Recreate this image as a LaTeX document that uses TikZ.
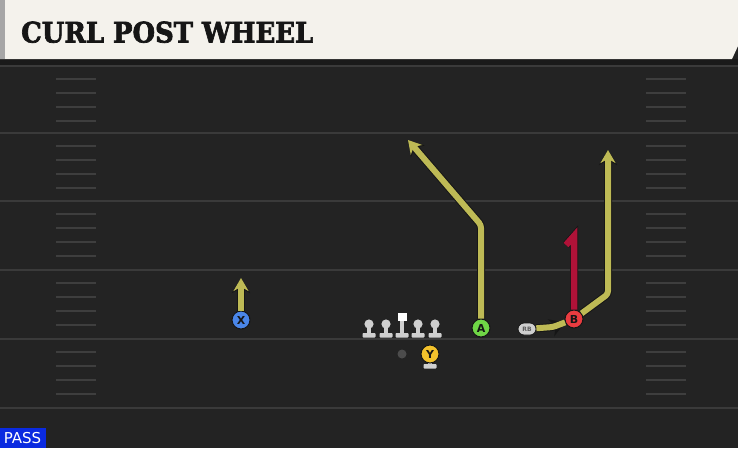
\documentclass[tikz,border=0pt]{standalone}
\usepackage{fontspec}
\usepackage{tikz}
\usetikzlibrary{arrows.meta,shapes.misc}
\newfontfamily\titlefont[FakeBold=2.5]{DejaVu Serif}
\setsansfont{DejaVu Sans}

\definecolor{field}{HTML}{232323}
\definecolor{band}{HTML}{1A1A1A}
\definecolor{yardline}{HTML}{3A3A3A}
\definecolor{hashmark}{HTML}{3E3E3E}
\definecolor{header}{HTML}{F4F2EC}
\definecolor{outline}{HTML}{161616}
\definecolor{routeyellow}{HTML}{BEBA55}
\definecolor{routered}{HTML}{B01238}
\definecolor{xblue}{HTML}{4A86E8}
\definecolor{agreen}{HTML}{6FD646}
\definecolor{bred}{HTML}{EA3C40}
\definecolor{yyellow}{HTML}{F3C22C}
\definecolor{linegray}{HTML}{CFCFCF}
\definecolor{passblue}{HTML}{0A2AE0}

\tikzset{
	player/.style={circle, draw=outline, line width=1pt, minimum size=18pt, inner sep=0pt,
		font=\sffamily\bfseries\fontsize{11}{11}\selectfont, text=outline},
	route/.style={draw=routeyellow, line width=6pt, rounded corners=3pt,
		preaction={draw=outline, line width=8pt, -{Stealth[length=15pt,width=18pt]}},
		-{Stealth[length=13pt,width=15pt]}},
	curl/.style={draw=routered, line width=6.5pt, line join=miter,
		preaction={draw=outline, line width=8pt}},
	lineman/.pic={
		\fill[linegray] (-2,0) rectangle (2,10);
		\fill[linegray] (0,0) circle (4.6);
		\fill[linegray, rounded corners=0.8pt] (-6.5,9) rectangle (6.5,13.5);
	},
}

\begin{document}
\begin{tikzpicture}[x=1pt,y=-1pt]
	% field
	\fill[field] (0,0) rectangle (738,448);
	\useasboundingbox (0,0) rectangle (738,448);
	\fill[band] (0,59) rectangle (738,65);
	\foreach \yy in {66,133,201,270,339,408} {
		\draw[yardline, line width=2.5pt] (0,\yy) -- (738,\yy);
	}
	\foreach \yy in {66,133,201,270,339} {
		\foreach \dy in {13,27,41,55} {
			\draw[hashmark, line width=2.5pt] (56,\yy+\dy) -- (96,\yy+\dy);
			\draw[hashmark, line width=2.5pt] (646,\yy+\dy) -- (686,\yy+\dy);
		}
	}

	% header
	\fill[header] (0,0) -- (738,0) -- (738,46) -- (732,59) -- (0,59) -- cycle;
	\fill[gray!70] (0,0) rectangle (5,59);
	\node[anchor=base west, inner sep=0pt, text=outline] (title) at (21,42.5)
		{\resizebox{292pt}{21pt}{\titlefont\bfseries CURL POST WHEEL}};

	% pass tag
	\fill[passblue] (0,428) rectangle (46,448);
	\node[text=white, inner sep=0pt, font=\sffamily\fontsize{15}{15}\selectfont] (pass) at (22.5,438.5) {PASS};

	% line
	\foreach \xx in {369,386,418,435} {
		\pic at (\xx,324) {lineman};
	}
	\fill[linegray] (400,320) rectangle (404,334);
	\fill[linegray, rounded corners=0.8pt] (395.5,333) rectangle (408.5,337.5);
	\fill[white] (397.5,312.5) rectangle (406.5,321);
	\node[circle, fill=gray!60!black, minimum size=9pt, inner sep=0pt] (qb) at (402,354) {};
	\fill[linegray] (428,356) rectangle (432,366);
	\fill[linegray, rounded corners=0.8pt] (423.5,364) rectangle (436.5,368.5);

	% players
	\node[player, fill=xblue] (X) at (241,320) {X};
	\node[player, fill=agreen] (A) at (481,328) {A};
	\node[player, fill=bred] (B) at (574,319) {B};
	\node[player, fill=yyellow] (Y) at (430,354) {Y};
	\node[rounded rectangle, draw=outline, fill=linegray, line width=0.8pt, minimum width=20pt,
		minimum height=12pt, inner sep=1pt, font=\sffamily\bfseries\fontsize{6}{6}\selectfont,
		text=outline!70] (RB) at (527,329) {RB};

	% routes
	\coordinate (Xend) at (241,278);
	\coordinate (Abreak) at (481,225);
	\coordinate (Aend) at (408,140);
	\coordinate (RBflat) at (553,327);
	\coordinate (RBturn) at (608,294);
	\coordinate (RBend) at (608,150);
	\coordinate (Btop) at (574,236);
	\coordinate (Bhook) at (566,245);
	\draw[route] (X) -- (Xend);
	\draw[route] (A) -- (Abreak) -- (Aend);
	\draw[route, -] (RB) -- (RBflat) -- (B);
	\draw[route] (B) -- (RBturn) -- (RBend);
	\draw[curl] (B) -- (Btop) -- (Bhook);
\end{tikzpicture}
\end{document}
